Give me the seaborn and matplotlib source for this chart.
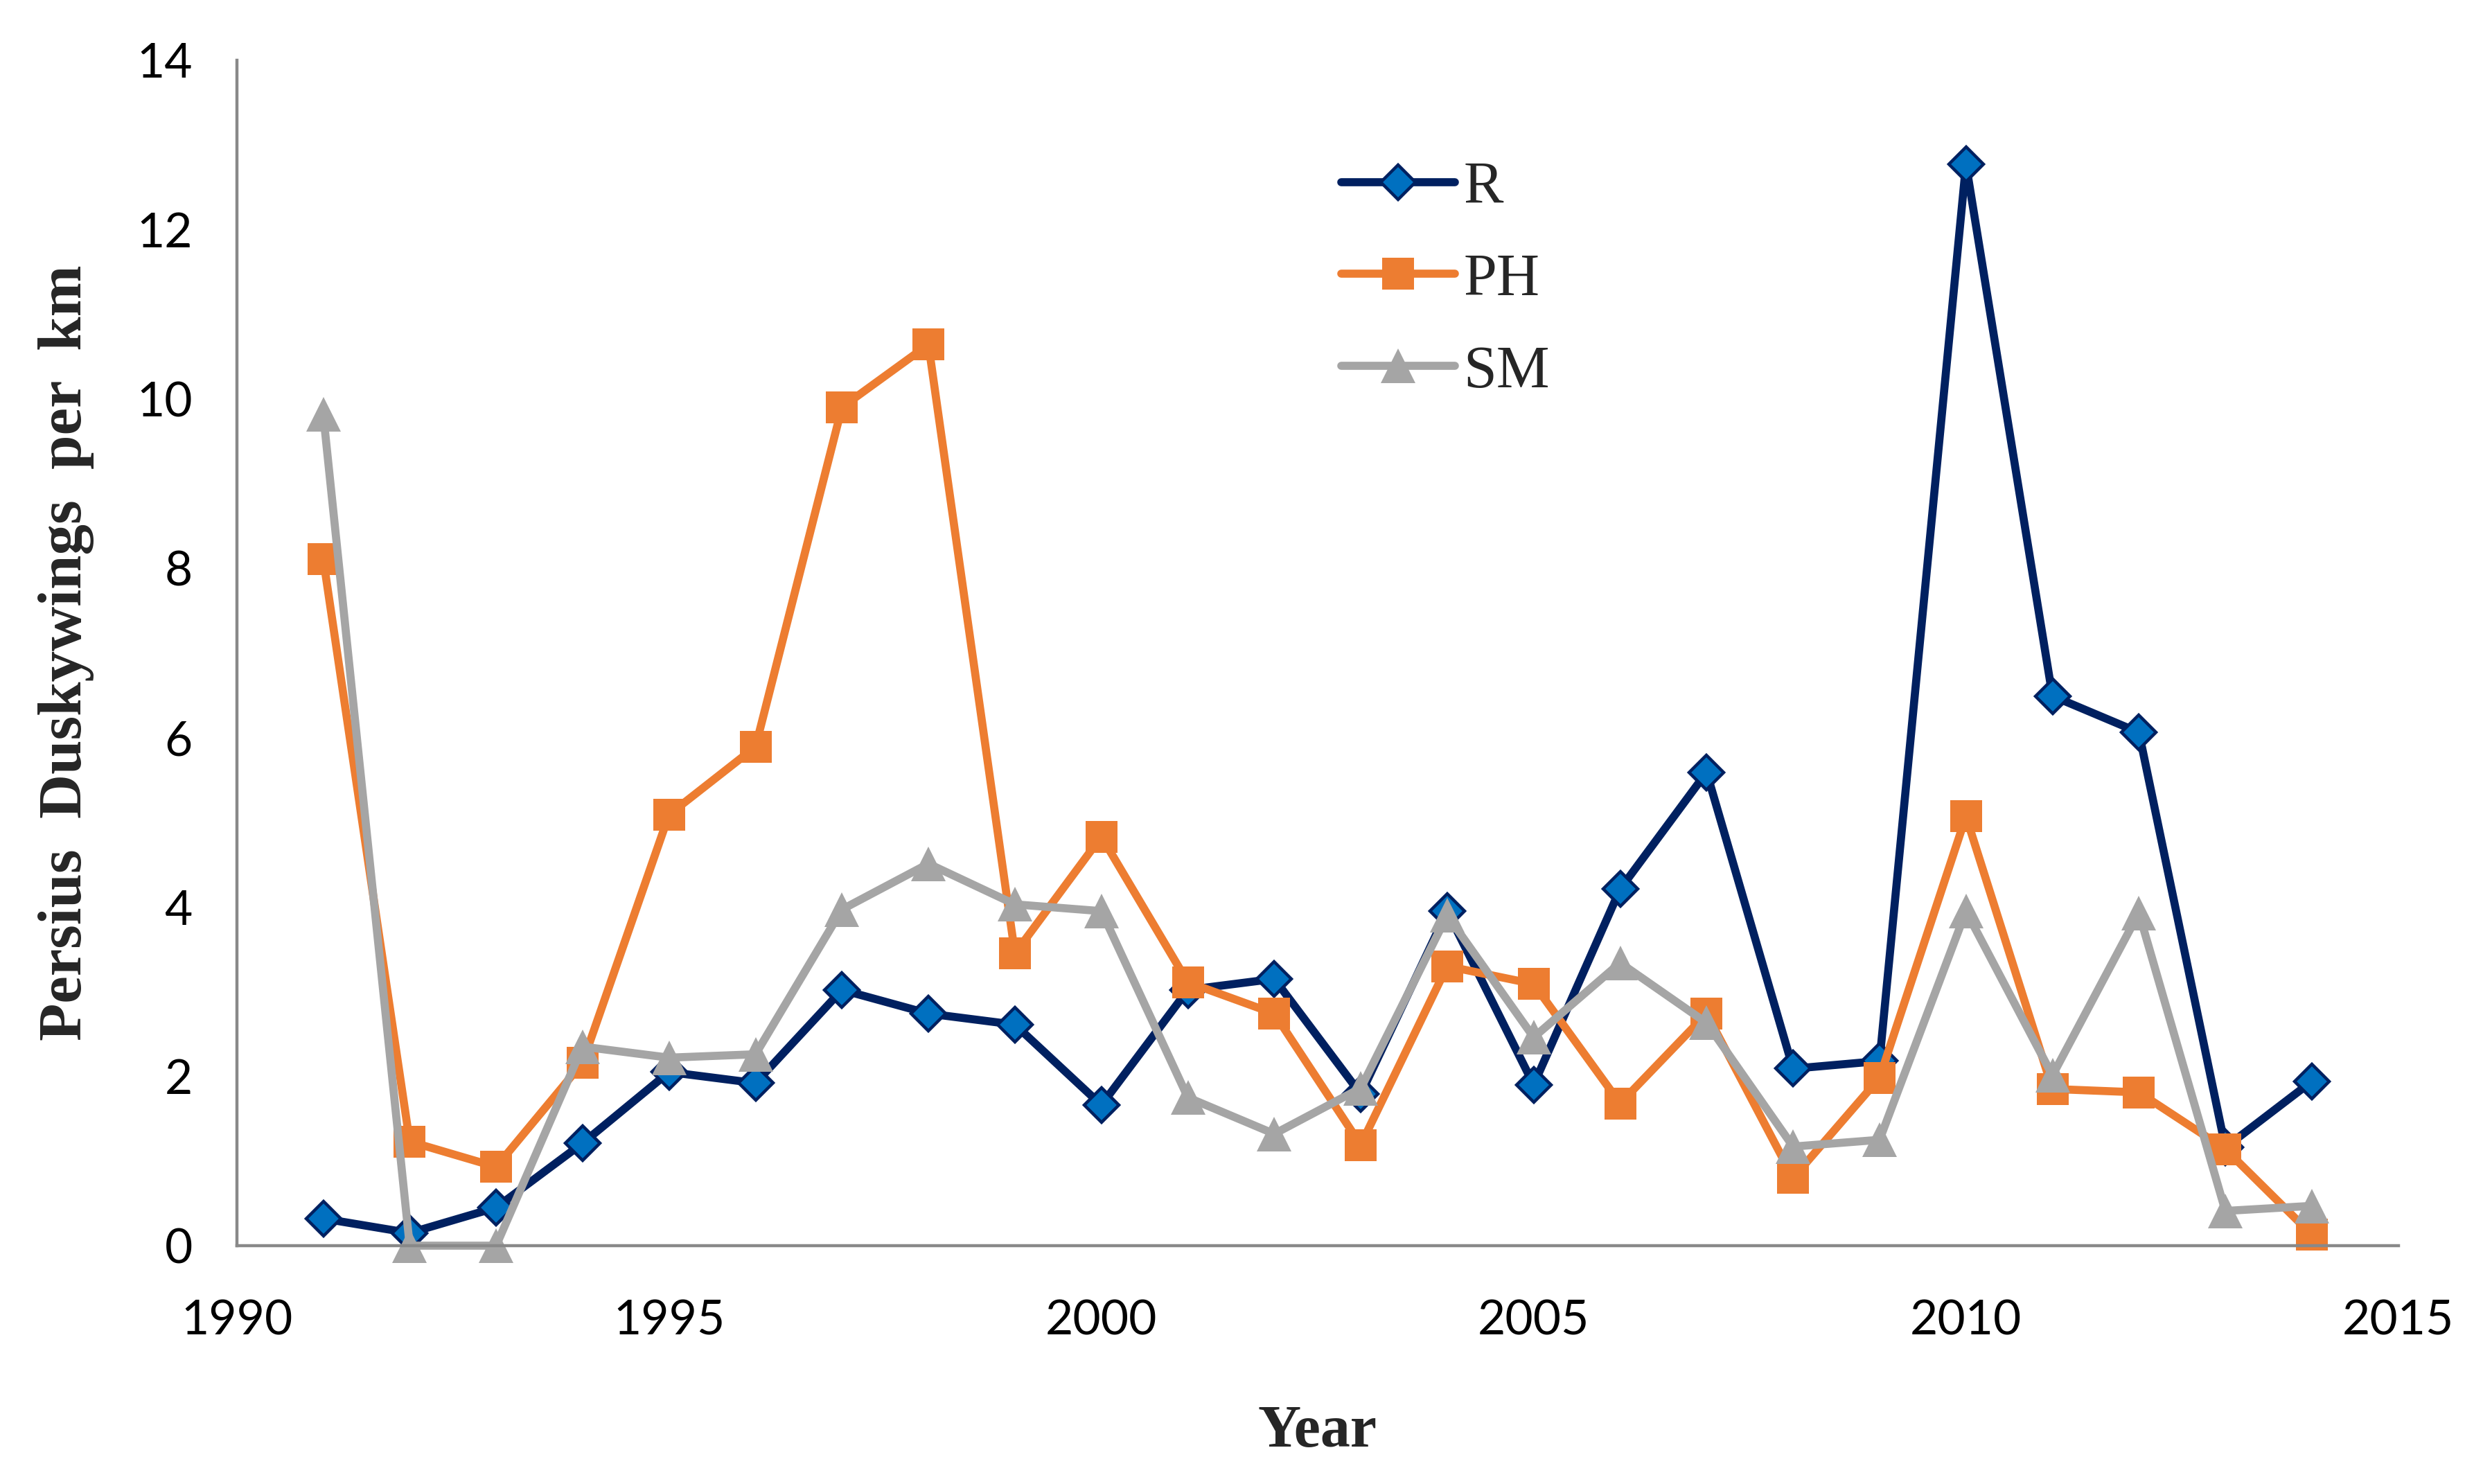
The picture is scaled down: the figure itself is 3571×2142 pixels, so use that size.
import matplotlib
matplotlib.use("Agg")
import matplotlib.pyplot as plt
import seaborn as sns
import pandas as pd

years = list(range(1991, 2015))
r_vals = [0.32, 0.15, 0.45, 1.21, 2.05, 1.92, 3.02, 2.74, 2.61, 1.66, 3.02, 3.15,
          1.79, 3.95, 1.90, 4.21, 5.59, 2.09, 2.18, 12.77, 6.49, 6.06, 1.16, 1.94]
ph_vals = [8.11, 1.23, 0.93, 2.16, 5.09, 5.89, 9.90, 10.64, 3.45, 4.83, 3.11, 2.74,
           1.19, 3.30, 3.09, 1.68, 2.74, 0.80, 1.98, 5.07, 1.85, 1.81, 1.14, 0.13]
sm_vals = [9.82, 0.0, 0.0, 2.35, 2.22, 2.26, 3.97, 4.51, 4.03, 3.95, 1.75, 1.32,
           1.86, 3.90, 2.46, 3.34, 2.63, 1.17, 1.25, 3.95, 2.01, 3.93, 0.41, 0.47]
series_names = ["R", "PH", "SM"]
x_ticks = [1990, 1995, 2000, 2005, 2010, 2015]
y_ticks = [0, 2, 4, 6, 8, 10, 12, 14]

sns.set_theme(style="white")
serif = ["Liberation Serif", "DejaVu Serif"]
sans = ["Lato", "DejaVu Sans"]

fig = plt.figure(figsize=(17.855, 10.71), dpi=200)
ax = fig.add_axes([0.0957, 0.1606, 0.8737, 0.799])

styles = {
    "R": dict(color="#002060", marker="D", markersize=12.5, markerfacecolor="#0070C0",
              markeredgecolor="#002060", markeredgewidth=1.6),
    "PH": dict(color="#ED7D31", marker="s", markersize=16.5, markerfacecolor="#ED7D31",
               markeredgecolor="#ED7D31", markeredgewidth=0),
    "SM": dict(color="#A5A5A5", marker="^", markersize=18, markerfacecolor="#A5A5A5",
               markeredgecolor="#A5A5A5", markeredgewidth=0),
}
for name, vals in zip(series_names, [r_vals, ph_vals, sm_vals]):
    df = pd.DataFrame({"Year": years, "Value": vals})
    sns.lineplot(data=df, x="Year", y="Value", ax=ax, linewidth=4.2, label=name,
                 clip_on=False, **styles[name])

ax.set_xlim(1990, 2015)
ax.set_ylim(0, 14)
ax.set_xticks(x_ticks)
ax.set_yticks(y_ticks)
for s in ["top", "right"]:
    ax.spines[s].set_visible(False)
for s in ["left", "bottom"]:
    ax.spines[s].set_color("#898989")
    ax.spines[s].set_linewidth(1.6)
ax.tick_params(axis="both", which="major", direction="out", length=10, width=1.6,
               color="#898989", labelsize=25, labelcolor="black")
ax.tick_params(axis="x", pad=18)
ax.tick_params(axis="y", pad=13)
for lab in ax.get_xticklabels() + ax.get_yticklabels():
    lab.set_family(sans)

ax.set_xlabel("Year", fontsize=31, fontweight="bold", family=serif, labelpad=32)
ax.set_ylabel("Persius  Duskywings  per  km", fontsize=32, fontweight="bold",
              family=serif, labelpad=22)

leg = ax.legend(loc="upper left", bbox_to_anchor=(0.5, 0.935), frameon=False,
                prop={"family": serif, "size": 31}, handlelength=1.9,
                labelspacing=0.62, handletextpad=0.15, borderaxespad=0)

fig.savefig("out.png", dpi=200, facecolor="white")
